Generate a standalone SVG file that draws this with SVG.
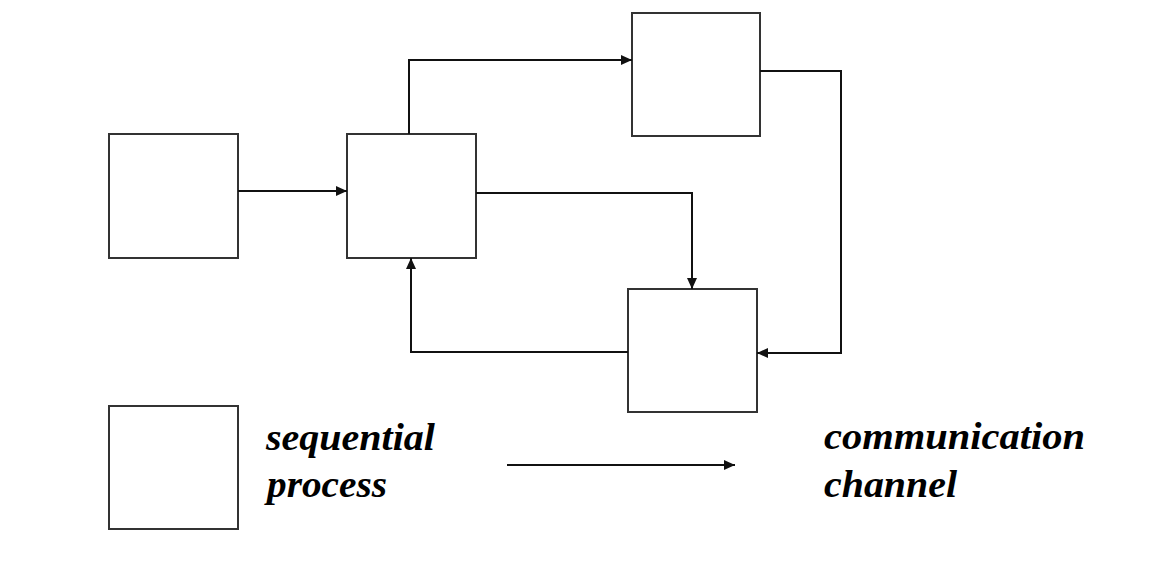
<svg xmlns="http://www.w3.org/2000/svg" width="1164" height="566" viewBox="0 0 1164 566">
<defs>
<marker id="ah" viewBox="0 0 11 10" refX="11" refY="5" markerWidth="11" markerHeight="10" markerUnits="userSpaceOnUse" orient="auto">
<path d="M0,0 L11,5 L0,10 Z" fill="#111"/>
</marker>
</defs>
<style>
.box{fill:#fff;stroke:#333;stroke-width:2}
.conn{fill:none;stroke:#111;stroke-width:2;marker-end:url(#ah)}
.lbl{font-family:"Liberation Serif","Times New Roman",serif;font-weight:bold;font-style:italic;font-size:37px;fill:#000}
</style>
<rect width="1164" height="566" fill="#fff"/>
<g id="nodeA"><rect class="box" x="109" y="134" width="129" height="124"/></g>
<g id="nodeB"><rect class="box" x="347" y="134" width="129" height="124"/></g>
<g id="nodeC"><rect class="box" x="632" y="13" width="128" height="123"/></g>
<g id="nodeD"><rect class="box" x="628" y="289" width="129" height="123"/></g>
<g id="legendProcess">
<rect class="box" x="109" y="406" width="129" height="123"/>
<text class="lbl" x="266" y="450" textLength="169" lengthAdjust="spacingAndGlyphs">sequential</text>
<text class="lbl" x="267" y="497" textLength="120" lengthAdjust="spacingAndGlyphs">process</text>
</g>
<g id="legendChannel">
<text class="lbl" x="824" y="449" textLength="261" lengthAdjust="spacingAndGlyphs">communication</text>
<text class="lbl" x="824" y="497" textLength="133" lengthAdjust="spacingAndGlyphs">channel</text>
</g>
<g id="connectors">
<path class="conn" d="M238,191 H347"/>
<path class="conn" d="M409,134 V60 H632"/>
<path class="conn" d="M760,71 H841 V353 H757"/>
<path class="conn" d="M476,193 H692 V289"/>
<path class="conn" d="M628,352 H411 V258"/>
<path class="conn" d="M507,465 H735"/>
</g>
</svg>
